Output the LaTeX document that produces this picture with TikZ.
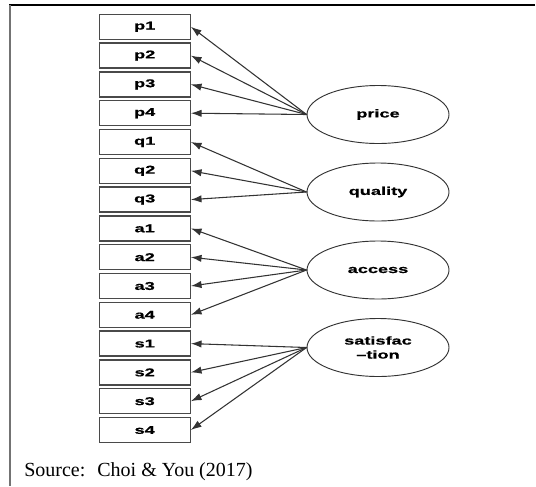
\documentclass[tikz,border=0pt]{standalone}
\usepackage{fontspec}
\setmainfont{Liberation Serif}
\newfontfamily\boxfont[FakeStretch=1.6,FakeBold=0.8]{Liberation Sans Bold}
\usetikzlibrary{arrows.meta,shapes.geometric}
\definecolor{linegray}{HTML}{333333}
\definecolor{boxgray}{HTML}{4A4A4A}
\begin{document}
\begin{tikzpicture}[x=0.75pt,y=-0.75pt,
  ind/.style={draw=boxgray,line width=1pt,minimum width=68.25pt,minimum height=18.75pt,inner sep=0pt,font=\boxfont\fontsize{8.5pt}{10pt}\selectfont},
  lat/.style={draw=linegray,line width=0.7pt,ellipse,minimum width=106.5pt,minimum height=43.5pt,inner sep=0pt,align=center,font=\boxfont\fontsize{8.5pt}{10.5pt}\selectfont},
  arr/.style={draw=linegray,line width=0.8pt,-{Latex[length=8pt,width=5.5pt]}}]
\useasboundingbox (0,0) rectangle (536,486);
\draw[line width=1.2pt,black] (9,5) -- (535,5);
\draw[line width=1pt,black!55] (10,5) -- (10,486);
% indicators
\foreach \n [count=\i from 0] in {p1,p2,p3,p4,q1,q2,q3,a1,a2,a3,a4,s1,s2,s3,s4}{
  \node[ind] (\n) at (144.7,{26.8+28.8*\i}) {\n};
}
% latent variables
\node[lat] (price) at (378,114.5) {price};
\node[lat] (quality) at (378,192) {quality};
\node[lat] (access) at (378,270) {access};
\node[lat] (satis) at (378,347.5) {satisfac\\\textendash tion};
% arrows
\foreach \n in {p1,p2,p3,p4}{\draw[arr] (price.west) -- (\n.east);}
\foreach \n in {q1,q2,q3}{\draw[arr] (quality.west) -- (\n.east);}
\foreach \n in {a1,a2,a3,a4}{\draw[arr] (access.west) -- (\n.east);}
\foreach \n in {s1,s2,s3,s4}{\draw[arr] (satis.west) -- (\n.east);}
% source
\node[anchor=base west,inner sep=0pt,font=\fontsize{15pt}{17pt}\selectfont] (src) at (24,476) {Source:\hspace{0.6em}Choi \& You (2017)};
\end{tikzpicture}
\end{document}
